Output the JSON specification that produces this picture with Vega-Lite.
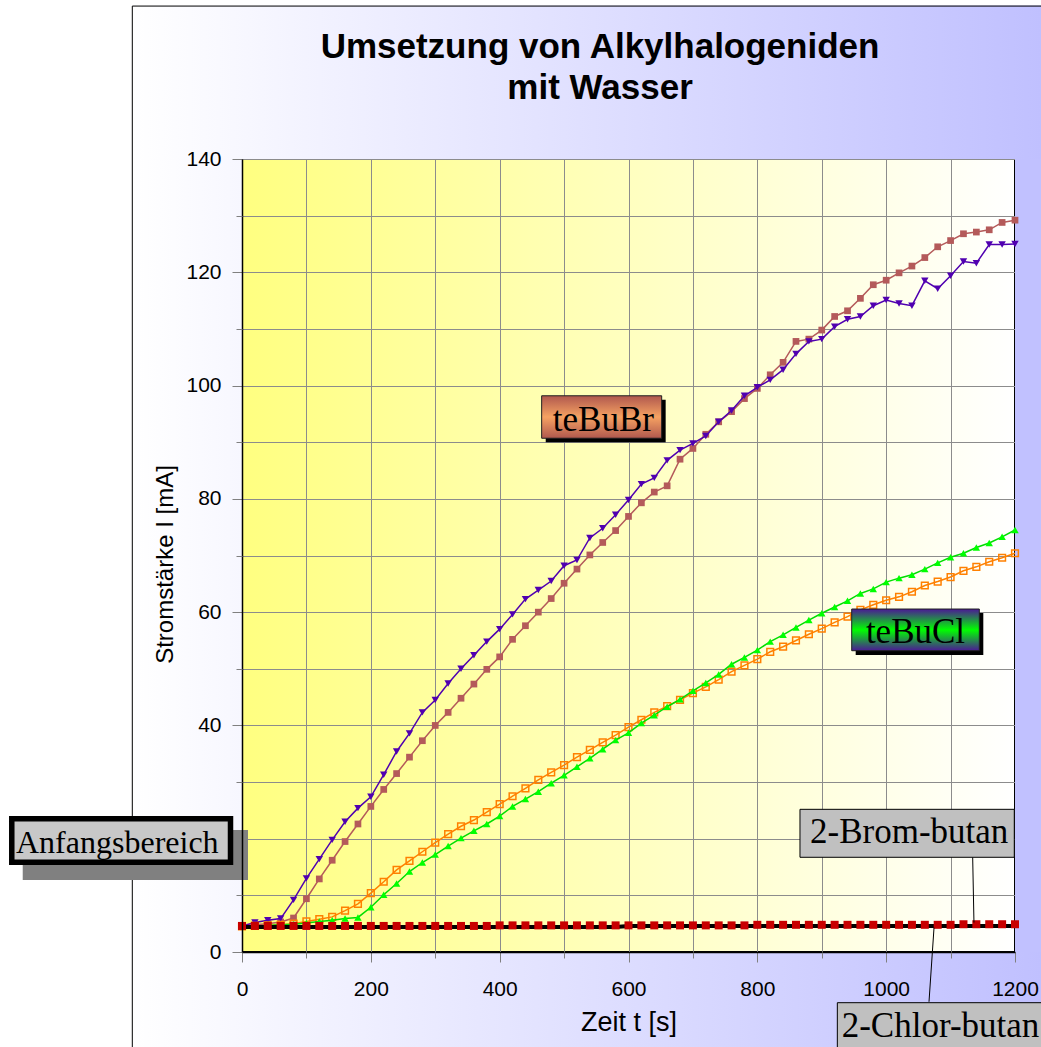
{
"$schema": "https://vega.github.io/schema/vega-lite/v6.json",
"width": 773,
"height": 793,
"autosize": {"type": "none"},
"padding": {"left": 242, "top": 159, "right": 26, "bottom": 95},
"background": "#ffffff",
"view": {"fill": {"gradient": "linear", "x1": 0, "y1": 0, "x2": 1, "y2": 0, "stops": [{"offset": 0, "color": "#ffff80"}, {"offset": 1, "color": "#ffffff"}]}, "stroke": "#000000", "strokeWidth": 2},
"config": {
  "axis": {"labelFont": "Liberation Sans", "labelFontSize": 21, "labelColor": "#000000", "titleFont": "Liberation Sans", "titleFontWeight": "normal", "titleColor": "#000000", "titleFontSize": 24, "tickColor": "#808080", "tickWidth": 1, "domainColor": "#000000", "gridColor": "#8c8c8c", "gridOpacity": 1}
},
"resolve": {"axis": {"x": "independent", "y": "independent"}},
"datasets": {
  "br1": [{"t":0,"I":4.5},{"t":20,"I":4.8},{"t":40,"I":5.0},{"t":60,"I":5.3},{"t":80,"I":6.0},{"t":100,"I":9.4},{"t":120,"I":12.9},{"t":140,"I":16.2},{"t":160,"I":19.5},{"t":180,"I":22.6},{"t":200,"I":25.7},{"t":220,"I":28.7},{"t":240,"I":31.5},{"t":260,"I":34.4},{"t":280,"I":37.3},{"t":300,"I":40.0},{"t":320,"I":42.3},{"t":340,"I":44.8},{"t":360,"I":47.3},{"t":380,"I":49.9},{"t":400,"I":52.1},{"t":420,"I":55.2},{"t":440,"I":57.6},{"t":460,"I":60.0},{"t":480,"I":62.4},{"t":500,"I":65.1},{"t":520,"I":67.6},{"t":540,"I":70.1},{"t":560,"I":72.3},{"t":580,"I":74.4},{"t":600,"I":76.9},{"t":620,"I":79.3},{"t":640,"I":81.2},{"t":660,"I":82.3},{"t":680,"I":87.0},{"t":700,"I":88.9},{"t":720,"I":91.4},{"t":740,"I":93.6},{"t":760,"I":95.4},{"t":780,"I":97.7},{"t":800,"I":99.5},{"t":820,"I":101.9},{"t":840,"I":104.1},{"t":860,"I":107.8},{"t":880,"I":108.2},{"t":900,"I":109.8},{"t":920,"I":112.2},{"t":940,"I":113.2},{"t":960,"I":115.4},{"t":980,"I":117.8},{"t":1000,"I":118.6},{"t":1020,"I":119.9},{"t":1040,"I":121.1},{"t":1060,"I":122.6},{"t":1080,"I":124.5},{"t":1100,"I":125.6},{"t":1120,"I":126.8},{"t":1140,"I":127.1},{"t":1160,"I":127.5},{"t":1180,"I":128.8},{"t":1200,"I":129.2}],
  "br2": [{"t":0,"I":4.6},{"t":20,"I":5.2},{"t":40,"I":5.6},{"t":60,"I":5.9},{"t":80,"I":9.2},{"t":100,"I":13.0},{"t":120,"I":16.4},{"t":140,"I":19.8},{"t":160,"I":23.0},{"t":180,"I":25.4},{"t":200,"I":27.4},{"t":220,"I":31.3},{"t":240,"I":35.4},{"t":260,"I":38.6},{"t":280,"I":42.3},{"t":300,"I":44.5},{"t":320,"I":47.4},{"t":340,"I":50.0},{"t":360,"I":52.4},{"t":380,"I":54.8},{"t":400,"I":57.0},{"t":420,"I":59.6},{"t":440,"I":62.3},{"t":460,"I":63.9},{"t":480,"I":65.5},{"t":500,"I":68.2},{"t":520,"I":69.2},{"t":540,"I":73.1},{"t":560,"I":74.8},{"t":580,"I":77.2},{"t":600,"I":79.8},{"t":620,"I":82.6},{"t":640,"I":83.7},{"t":660,"I":86.8},{"t":680,"I":88.6},{"t":700,"I":89.8},{"t":720,"I":91.1},{"t":740,"I":93.6},{"t":760,"I":95.6},{"t":780,"I":98.2},{"t":800,"I":99.7},{"t":820,"I":101.0},{"t":840,"I":102.8},{"t":860,"I":105.6},{"t":880,"I":107.8},{"t":900,"I":108.2},{"t":920,"I":110.4},{"t":940,"I":111.7},{"t":960,"I":112.2},{"t":980,"I":114.1},{"t":1000,"I":115.1},{"t":1020,"I":114.5},{"t":1040,"I":114.1},{"t":1060,"I":118.5},{"t":1080,"I":117.1},{"t":1100,"I":119.4},{"t":1120,"I":121.9},{"t":1140,"I":121.6},{"t":1160,"I":124.9},{"t":1180,"I":124.9},{"t":1200,"I":125.0}],
  "cl1": [{"t":0,"I":4.5},{"t":20,"I":4.6},{"t":40,"I":4.7},{"t":60,"I":4.8},{"t":80,"I":5.0},{"t":100,"I":5.4},{"t":120,"I":5.8},{"t":140,"I":6.2},{"t":160,"I":7.3},{"t":180,"I":8.5},{"t":200,"I":10.4},{"t":220,"I":12.4},{"t":240,"I":14.5},{"t":260,"I":16.1},{"t":280,"I":17.7},{"t":300,"I":19.3},{"t":320,"I":20.8},{"t":340,"I":22.2},{"t":360,"I":23.3},{"t":380,"I":24.7},{"t":400,"I":26.1},{"t":420,"I":27.5},{"t":440,"I":28.9},{"t":460,"I":30.4},{"t":480,"I":31.7},{"t":500,"I":33.0},{"t":520,"I":34.4},{"t":540,"I":35.7},{"t":560,"I":37.0},{"t":580,"I":38.3},{"t":600,"I":39.7},{"t":620,"I":41.0},{"t":640,"I":42.3},{"t":660,"I":43.4},{"t":680,"I":44.5},{"t":700,"I":45.7},{"t":720,"I":46.8},{"t":740,"I":48.1},{"t":760,"I":49.5},{"t":780,"I":50.6},{"t":800,"I":51.7},{"t":820,"I":53.0},{"t":840,"I":53.9},{"t":860,"I":55.0},{"t":880,"I":56.1},{"t":900,"I":57.1},{"t":920,"I":58.2},{"t":940,"I":59.2},{"t":960,"I":60.4},{"t":980,"I":61.3},{"t":1000,"I":62.1},{"t":1020,"I":62.7},{"t":1040,"I":63.6},{"t":1060,"I":64.7},{"t":1080,"I":65.4},{"t":1100,"I":66.2},{"t":1120,"I":67.3},{"t":1140,"I":68.0},{"t":1160,"I":68.9},{"t":1180,"I":69.6},{"t":1200,"I":70.4}],
  "cl2": [{"t":0,"I":4.5},{"t":20,"I":4.6},{"t":40,"I":4.7},{"t":60,"I":4.8},{"t":80,"I":4.9},{"t":100,"I":5.1},{"t":120,"I":5.4},{"t":140,"I":5.6},{"t":160,"I":5.9},{"t":180,"I":6.1},{"t":200,"I":7.9},{"t":220,"I":10.1},{"t":240,"I":12.1},{"t":260,"I":14.2},{"t":280,"I":15.8},{"t":300,"I":17.2},{"t":320,"I":18.7},{"t":340,"I":20.1},{"t":360,"I":21.4},{"t":380,"I":22.6},{"t":400,"I":24.0},{"t":420,"I":25.7},{"t":440,"I":27.0},{"t":460,"I":28.3},{"t":480,"I":29.8},{"t":500,"I":31.2},{"t":520,"I":32.7},{"t":540,"I":34.2},{"t":560,"I":35.8},{"t":580,"I":37.4},{"t":600,"I":38.7},{"t":620,"I":40.4},{"t":640,"I":41.8},{"t":660,"I":43.3},{"t":680,"I":44.6},{"t":700,"I":46.1},{"t":720,"I":47.5},{"t":740,"I":49.0},{"t":760,"I":50.8},{"t":780,"I":52.0},{"t":800,"I":53.3},{"t":820,"I":54.8},{"t":840,"I":56.0},{"t":860,"I":57.3},{"t":880,"I":58.6},{"t":900,"I":59.8},{"t":920,"I":60.9},{"t":940,"I":62.0},{"t":960,"I":63.3},{"t":980,"I":64.1},{"t":1000,"I":65.3},{"t":1020,"I":66.0},{"t":1040,"I":66.6},{"t":1060,"I":67.6},{"t":1080,"I":68.7},{"t":1100,"I":69.7},{"t":1120,"I":70.4},{"t":1140,"I":71.4},{"t":1160,"I":72.2},{"t":1180,"I":73.3},{"t":1200,"I":74.5}],
  "brom": [{"t":0,"I":4.6},{"t":20,"I":4.6},{"t":40,"I":4.6},{"t":60,"I":4.6},{"t":80,"I":4.6},{"t":100,"I":4.6},{"t":120,"I":4.6},{"t":140,"I":4.6},{"t":160,"I":4.6},{"t":180,"I":4.6},{"t":200,"I":4.6},{"t":220,"I":4.6},{"t":240,"I":4.6},{"t":260,"I":4.6},{"t":280,"I":4.6},{"t":300,"I":4.6},{"t":320,"I":4.6},{"t":340,"I":4.6},{"t":360,"I":4.6},{"t":380,"I":4.6},{"t":400,"I":4.7},{"t":420,"I":4.7},{"t":440,"I":4.7},{"t":460,"I":4.7},{"t":480,"I":4.7},{"t":500,"I":4.7},{"t":520,"I":4.7},{"t":540,"I":4.7},{"t":560,"I":4.7},{"t":580,"I":4.7},{"t":600,"I":4.7},{"t":620,"I":4.7},{"t":640,"I":4.7},{"t":660,"I":4.7},{"t":680,"I":4.7},{"t":700,"I":4.7},{"t":720,"I":4.7},{"t":740,"I":4.7},{"t":760,"I":4.7},{"t":780,"I":4.7},{"t":800,"I":4.8},{"t":820,"I":4.8},{"t":840,"I":4.8},{"t":860,"I":4.8},{"t":880,"I":4.8},{"t":900,"I":4.8},{"t":920,"I":4.8},{"t":940,"I":4.8},{"t":960,"I":4.8},{"t":980,"I":4.8},{"t":1000,"I":4.8},{"t":1020,"I":4.8},{"t":1040,"I":4.8},{"t":1060,"I":4.8},{"t":1080,"I":4.8},{"t":1100,"I":4.8},{"t":1120,"I":4.9},{"t":1140,"I":4.9},{"t":1160,"I":4.9},{"t":1180,"I":4.9},{"t":1200,"I":4.9}],
  "chlor": [{"t":0,"I":4.4},{"t":20,"I":4.4},{"t":40,"I":4.4},{"t":60,"I":4.4},{"t":80,"I":4.4},{"t":100,"I":4.4},{"t":120,"I":4.4},{"t":140,"I":4.4},{"t":160,"I":4.4},{"t":180,"I":4.4},{"t":200,"I":4.4},{"t":220,"I":4.4},{"t":240,"I":4.4},{"t":260,"I":4.4},{"t":280,"I":4.4},{"t":300,"I":4.4},{"t":320,"I":4.4},{"t":340,"I":4.4},{"t":360,"I":4.4},{"t":380,"I":4.4},{"t":400,"I":4.4},{"t":420,"I":4.4},{"t":440,"I":4.4},{"t":460,"I":4.4},{"t":480,"I":4.4},{"t":500,"I":4.4},{"t":520,"I":4.4},{"t":540,"I":4.4},{"t":560,"I":4.4},{"t":580,"I":4.4},{"t":600,"I":4.6},{"t":620,"I":4.6},{"t":640,"I":4.6},{"t":660,"I":4.6},{"t":680,"I":4.6},{"t":700,"I":4.6},{"t":720,"I":4.6},{"t":740,"I":4.6},{"t":760,"I":4.6},{"t":780,"I":4.6},{"t":800,"I":4.6},{"t":820,"I":4.6},{"t":840,"I":4.6},{"t":860,"I":4.6},{"t":880,"I":4.6},{"t":900,"I":4.6},{"t":920,"I":4.6},{"t":940,"I":4.6},{"t":960,"I":4.6},{"t":980,"I":4.6},{"t":1000,"I":4.6},{"t":1020,"I":4.6},{"t":1040,"I":4.6},{"t":1060,"I":4.6},{"t":1080,"I":4.6},{"t":1100,"I":4.6},{"t":1120,"I":4.6},{"t":1140,"I":4.6},{"t":1160,"I":4.6},{"t":1180,"I":4.6},{"t":1200,"I":4.6}]
},
"layer": [
  {"data": {"values": [{}]}, "mark": {"type": "rect", "clip": false, "fill": {"gradient": "linear", "x1": 0, "y1": 0, "x2": 1, "y2": 0, "stops": [{"offset": 0, "color": "#ffffff"}, {"offset": 1, "color": "#c0c0ff"}]}},
   "encoding": {"x": {"datum": -170.3, "type": "quantitative", "scale": {"domain": [0, 1200], "nice": false, "zero": false}, "axis": null}, "x2": {"datum": 1240.4}, "y": {"datum": 140, "type": "quantitative", "scale": {"domain": [0, 140], "nice": false, "zero": false}, "axis": null}, "y2": {"datum": 167.1}}},
  {"data": {"values": [{}]}, "mark": {"type": "rect", "clip": false, "fill": {"gradient": "linear", "x1": 0, "y1": 0, "x2": 1, "y2": 0, "stops": [{"offset": 0, "color": "#ffffff"}, {"offset": 1, "color": "#c0c0ff"}]}},
   "encoding": {"x": {"datum": -170.3, "type": "quantitative", "scale": {"domain": [0, 1200], "nice": false, "zero": false}, "axis": null}, "x2": {"datum": 1240.4}, "y": {"datum": -17.5, "type": "quantitative", "scale": {"domain": [0, 140], "nice": false, "zero": false}, "axis": null}, "y2": {"datum": 0}}},
  {"data": {"values": [{}]}, "mark": {"type": "rect", "clip": false, "fill": {"gradient": "linear", "x1": 0, "y1": 0, "x2": 1, "y2": 0, "stops": [{"offset": 0, "color": "#ffffff"}, {"offset": 1, "color": "#f7f7ff"}]}},
   "encoding": {"x": {"datum": -170.3, "type": "quantitative", "scale": {"domain": [0, 1200], "nice": false, "zero": false}, "axis": null}, "x2": {"datum": 0}, "y": {"datum": 0, "type": "quantitative", "scale": {"domain": [0, 140], "nice": false, "zero": false}, "axis": null}, "y2": {"datum": 140}}},
  {"data": {"values": [{}]}, "mark": {"type": "rect", "clip": false, "fill": "#c1c1ff"},
   "encoding": {"x": {"datum": 1200, "type": "quantitative", "scale": {"domain": [0, 1200], "nice": false, "zero": false}, "axis": null}, "x2": {"datum": 1240.4}, "y": {"datum": 0, "type": "quantitative", "scale": {"domain": [0, 140], "nice": false, "zero": false}, "axis": null}, "y2": {"datum": 140}}},
  {"data": {"values": [{}]}, "mark": {"type": "rect", "clip": false, "filled": false, "color": "#000000", "strokeWidth": 1},
   "encoding": {"x": {"datum": -170.3, "type": "quantitative", "scale": {"domain": [0, 1200], "nice": false, "zero": false}, "axis": null}, "x2": {"datum": 1300}, "y": {"datum": -40, "type": "quantitative", "scale": {"domain": [0, 140], "nice": false, "zero": false}, "axis": null}, "y2": {"datum": 167.0}}},

  {"data": {"name": "br1"}, "mark": {"type": "line", "color": "#b45a5a", "strokeWidth": 1.5},
   "encoding": {"x": {"field": "t", "type": "quantitative", "scale": {"domain": [0, 1200], "nice": false, "zero": false},
      "axis": {"orient": "bottom", "values": [0,100,200,300,400,500,600,700,800,900,1000,1100,1200], "grid": true, "gridWidth": 1, "domain": false, "ticks": false, "labels": false, "title": null, "zindex": 0}},
    "y": {"field": "I", "type": "quantitative", "scale": {"domain": [0, 140], "nice": false, "zero": false},
      "axis": {"orient": "left", "values": [0,10,20,30,40,50,60,70,80,90,100,110,120,130,140], "grid": true, "gridWidth": 1, "domain": false, "ticks": false, "labels": false, "title": null, "zindex": 0}}}},
  {"data": {"name": "br1"}, "mark": {"type": "point", "shape": "square", "filled": true, "color": "#b45a5a", "size": 45, "opacity": 1},
   "encoding": {"x": {"field": "t", "type": "quantitative", "scale": {"domain": [0, 1200], "nice": false, "zero": false}, "axis": null}, "y": {"field": "I", "type": "quantitative", "scale": {"domain": [0, 140], "nice": false, "zero": false}, "axis": null}}},

  {"data": {"name": "br2"}, "mark": {"type": "line", "color": "#5000b0", "strokeWidth": 1.5},
   "encoding": {"x": {"field": "t", "type": "quantitative", "scale": {"domain": [0, 1200], "nice": false, "zero": false},
      "axis": {"orient": "bottom", "values": [0,200,400,600,800,1000,1200], "format": "d", "grid": false, "domain": true, "domainWidth": 1.5, "ticks": true, "tickSize": 10, "labels": true, "labelPadding": 16, "labelOverlap": false, "labelFlush": false, "title": "Zeit t [s]", "titleFontSize": 27, "titleY": 78, "titleBaseline": "alphabetic", "zindex": 1}},
    "y": {"field": "I", "type": "quantitative", "scale": {"domain": [0, 140], "nice": false, "zero": false},
      "axis": {"orient": "left", "values": [0,40,60,80,100,120,140], "format": "d", "grid": false, "domain": true, "domainWidth": 1.5, "ticks": true, "tickSize": 10, "labels": true, "labelPadding": 11, "labelOverlap": false, "labelFlush": false, "title": "Stromstärke I [mA]", "titleX": -77, "titleY": 405, "titleBaseline": "middle", "zindex": 1}}}},
  {"data": {"name": "br2"}, "mark": {"type": "point", "shape": "triangle-down", "filled": true, "color": "#5000b0", "size": 55, "opacity": 1},
   "encoding": {"x": {"field": "t", "type": "quantitative", "scale": {"domain": [0, 1200], "nice": false, "zero": false}, "axis": null}, "y": {"field": "I", "type": "quantitative", "scale": {"domain": [0, 140], "nice": false, "zero": false}, "axis": null}}},

  {"data": {"name": "cl1"}, "mark": {"type": "line", "color": "#ff8000", "strokeWidth": 1.5},
   "encoding": {"x": {"field": "t", "type": "quantitative", "scale": {"domain": [0, 1200], "nice": false, "zero": false},
      "axis": {"orient": "bottom", "values": [100,300,500,700,900,1100], "grid": false, "domain": false, "ticks": true, "tickSize": 6, "labels": false, "title": null, "zindex": 1}},
    "y": {"field": "I", "type": "quantitative", "scale": {"domain": [0, 140], "nice": false, "zero": false},
      "axis": {"orient": "left", "values": [10,30,50,70,90,110,130], "grid": false, "domain": false, "ticks": true, "tickSize": 6, "labels": false, "title": null, "zindex": 1}}}},
  {"data": {"name": "cl1"}, "mark": {"type": "point", "shape": "square", "filled": false, "color": "#ff8000", "strokeWidth": 1.5, "size": 45, "opacity": 1},
   "encoding": {"x": {"field": "t", "type": "quantitative", "scale": {"domain": [0, 1200], "nice": false, "zero": false}, "axis": null}, "y": {"field": "I", "type": "quantitative", "scale": {"domain": [0, 140], "nice": false, "zero": false}, "axis": null}}},

  {"data": {"name": "cl2"}, "mark": {"type": "line", "color": "#00dd00", "strokeWidth": 1.5},
   "encoding": {"x": {"field": "t", "type": "quantitative", "scale": {"domain": [0, 1200], "nice": false, "zero": false}, "axis": null}, "y": {"field": "I", "type": "quantitative", "scale": {"domain": [0, 140], "nice": false, "zero": false}, "axis": null}}},
  {"data": {"name": "cl2"}, "mark": {"type": "point", "shape": "triangle-up", "filled": true, "color": "#00ff00", "size": 55, "opacity": 1},
   "encoding": {"x": {"field": "t", "type": "quantitative", "scale": {"domain": [0, 1200], "nice": false, "zero": false}, "axis": null}, "y": {"field": "I", "type": "quantitative", "scale": {"domain": [0, 140], "nice": false, "zero": false}, "axis": null}}},

  {"data": {"name": "chlor"}, "mark": {"type": "line", "color": "#000000", "strokeWidth": 4},
   "encoding": {"x": {"field": "t", "type": "quantitative", "scale": {"domain": [0, 1200], "nice": false, "zero": false}, "axis": null}, "y": {"field": "I", "type": "quantitative", "scale": {"domain": [0, 140], "nice": false, "zero": false}, "axis": null}}},
  {"data": {"name": "brom"}, "mark": {"type": "point", "shape": "square", "filled": true, "color": "#c80000", "size": 64, "opacity": 1},
   "encoding": {"x": {"field": "t", "type": "quantitative", "scale": {"domain": [0, 1200], "nice": false, "zero": false}, "axis": null}, "y": {"field": "I", "type": "quantitative", "scale": {"domain": [0, 140], "nice": false, "zero": false}, "axis": null}}},

  {"data": {"values": [{}]}, "mark": {"type": "rect", "clip": false, "fill": "#808080"},
   "encoding": {"x": {"datum": -340.4, "type": "quantitative", "scale": {"domain": [0, 1200], "nice": false, "zero": false}, "axis": null}, "x2": {"datum": 9.3}, "y": {"datum": 12.71, "type": "quantitative", "scale": {"domain": [0, 140], "nice": false, "zero": false}, "axis": null}, "y2": {"datum": 21.54}}},
  {"data": {"values": [{}]}, "mark": {"type": "rect", "clip": false, "fill": "#c8c8c8", "stroke": "#000000", "strokeWidth": 5.5},
   "encoding": {"x": {"datum": -357.4, "type": "quantitative", "scale": {"domain": [0, 1200], "nice": false, "zero": false}, "axis": null}, "x2": {"datum": -17.85}, "y": {"datum": 15.85, "type": "quantitative", "scale": {"domain": [0, 140], "nice": false, "zero": false}, "axis": null}, "y2": {"datum": 23.52}}},
  {"data": {"values": [{"label": "Anfangsbereich"}]}, "mark": {"type": "text", "font": "Liberation Serif", "fontSize": 32, "align": "center", "baseline": "alphabetic", "color": "#000000"},
   "encoding": {"text": {"field": "label"}, "x": {"datum": -193.6, "type": "quantitative", "scale": {"domain": [0, 1200], "nice": false, "zero": false}, "axis": null}, "y": {"datum": 17.48, "type": "quantitative", "scale": {"domain": [0, 140], "nice": false, "zero": false}, "axis": null}}},

  {"data": {"values": [{}]}, "mark": {"type": "rect", "clip": false, "fill": "#000000"},
   "encoding": {"x": {"datum": 471.5, "type": "quantitative", "scale": {"domain": [0, 1200], "nice": false, "zero": false}, "axis": null}, "x2": {"datum": 657.7}, "y": {"datum": 90.0, "type": "quantitative", "scale": {"domain": [0, 140], "nice": false, "zero": false}, "axis": null}, "y2": {"datum": 97.5}}},
  {"data": {"values": [{}]}, "mark": {"type": "rect", "clip": false, "stroke": "#202020", "strokeWidth": 1, "fill": {"gradient": "linear", "x1": 0, "y1": 0, "x2": 0, "y2": 1, "stops": [{"offset": 0, "color": "#b0584e"}, {"offset": 0.5, "color": "#f6a262"}, {"offset": 1, "color": "#b0584e"}]}},
   "encoding": {"x": {"datum": 465.2, "type": "quantitative", "scale": {"domain": [0, 1200], "nice": false, "zero": false}, "axis": null}, "x2": {"datum": 651.5}, "y": {"datum": 90.7, "type": "quantitative", "scale": {"domain": [0, 140], "nice": false, "zero": false}, "axis": null}, "y2": {"datum": 98.2}}},
  {"data": {"values": [{"label": "teBuBr"}]}, "mark": {"type": "text", "font": "Liberation Serif", "fontSize": 35, "align": "center", "baseline": "alphabetic", "color": "#000000"},
   "encoding": {"text": {"field": "label"}, "x": {"datum": 561, "type": "quantitative", "scale": {"domain": [0, 1200], "nice": false, "zero": false}, "axis": null}, "y": {"datum": 92.0, "type": "quantitative", "scale": {"domain": [0, 140], "nice": false, "zero": false}, "axis": null}}},

  {"data": {"values": [{}]}, "mark": {"type": "rect", "clip": false, "fill": "#000000"},
   "encoding": {"x": {"datum": 952.7, "type": "quantitative", "scale": {"domain": [0, 1200], "nice": false, "zero": false}, "axis": null}, "x2": {"datum": 1150.8}, "y": {"datum": 52.44, "type": "quantitative", "scale": {"domain": [0, 140], "nice": false, "zero": false}, "axis": null}, "y2": {"datum": 59.85}}},
  {"data": {"values": [{}]}, "mark": {"type": "rect", "clip": false, "stroke": "#202020", "strokeWidth": 1, "fill": {"gradient": "linear", "x1": 0, "y1": 0, "x2": 0, "y2": 1, "stops": [{"offset": 0, "color": "#4b1896"}, {"offset": 0.5, "color": "#00ff00"}, {"offset": 1, "color": "#4b1896"}]}},
   "encoding": {"x": {"datum": 946.5, "type": "quantitative", "scale": {"domain": [0, 1200], "nice": false, "zero": false}, "axis": null}, "x2": {"datum": 1144.6}, "y": {"datum": 53.19, "type": "quantitative", "scale": {"domain": [0, 140], "nice": false, "zero": false}, "axis": null}, "y2": {"datum": 60.55}}},
  {"data": {"values": [{"label": "teBuCl"}]}, "mark": {"type": "text", "font": "Liberation Serif", "fontSize": 35, "align": "center", "baseline": "alphabetic", "color": "#000000"},
   "encoding": {"text": {"field": "label"}, "x": {"datum": 1045.5, "type": "quantitative", "scale": {"domain": [0, 1200], "nice": false, "zero": false}, "axis": null}, "y": {"datum": 54.6, "type": "quantitative", "scale": {"domain": [0, 140], "nice": false, "zero": false}, "axis": null}}},

  {"data": {"values": [{}]}, "mark": {"type": "rule", "clip": false, "color": "#000000", "strokeWidth": 1},
   "encoding": {"x": {"datum": 1134.3, "type": "quantitative", "scale": {"domain": [0, 1200], "nice": false, "zero": false}, "axis": null}, "x2": {"datum": 1136.3}, "y": {"datum": 16.72, "type": "quantitative", "scale": {"domain": [0, 140], "nice": false, "zero": false}, "axis": null}, "y2": {"datum": 5.2}}},
  {"data": {"values": [{}]}, "mark": {"type": "rect", "clip": false, "fill": "#c0c0c0", "stroke": "#000000", "strokeWidth": 1},
   "encoding": {"x": {"datum": 866.2, "type": "quantitative", "scale": {"domain": [0, 1200], "nice": false, "zero": false}, "axis": null}, "x2": {"datum": 1198.9}, "y": {"datum": 16.72, "type": "quantitative", "scale": {"domain": [0, 140], "nice": false, "zero": false}, "axis": null}, "y2": {"datum": 25.19}}},
  {"data": {"values": [{"label": "2-Brom-butan"}]}, "mark": {"type": "text", "font": "Liberation Serif", "fontSize": 35, "align": "center", "baseline": "alphabetic", "color": "#000000"},
   "encoding": {"text": {"field": "label"}, "x": {"datum": 1035.7, "type": "quantitative", "scale": {"domain": [0, 1200], "nice": false, "zero": false}, "axis": null}, "y": {"datum": 19.19, "type": "quantitative", "scale": {"domain": [0, 140], "nice": false, "zero": false}, "axis": null}}},

  {"data": {"values": [{}]}, "mark": {"type": "rule", "clip": false, "color": "#000000", "strokeWidth": 1},
   "encoding": {"x": {"datum": 1066.5, "type": "quantitative", "scale": {"domain": [0, 1200], "nice": false, "zero": false}, "axis": null}, "x2": {"datum": 1074.3}, "y": {"datum": -8.79, "type": "quantitative", "scale": {"domain": [0, 140], "nice": false, "zero": false}, "axis": null}, "y2": {"datum": 4.3}}},
  {"data": {"values": [{}]}, "mark": {"type": "rect", "clip": false, "fill": "#c0c0c0", "stroke": "#000000", "strokeWidth": 1},
   "encoding": {"x": {"datum": 924.2, "type": "quantitative", "scale": {"domain": [0, 1200], "nice": false, "zero": false}, "axis": null}, "x2": {"datum": 1300}, "y": {"datum": -40, "type": "quantitative", "scale": {"domain": [0, 140], "nice": false, "zero": false}, "axis": null}, "y2": {"datum": -8.95}}},
  {"data": {"values": [{"label": "2-Chlor-butan"}]}, "mark": {"type": "text", "font": "Liberation Serif", "fontSize": 35, "align": "left", "baseline": "alphabetic", "color": "#000000"},
   "encoding": {"text": {"field": "label"}, "x": {"datum": 931.0, "type": "quantitative", "scale": {"domain": [0, 1200], "nice": false, "zero": false}, "axis": null}, "y": {"datum": -14.95, "type": "quantitative", "scale": {"domain": [0, 140], "nice": false, "zero": false}, "axis": null}}},

  {"data": {"values": [{"titel": "Umsetzung von Alkylhalogeniden", "zeile": 1}]}, "mark": {"type": "text", "text": ["Umsetzung von Alkylhalogeniden", "mit Wasser"], "font": "Liberation Sans", "fontSize": 35, "fontWeight": "bold", "align": "center", "baseline": "alphabetic", "lineHeight": 41, "color": "#000000"},
   "encoding": {"x": {"datum": 555.8, "type": "quantitative", "scale": {"domain": [0, 1200], "nice": false, "zero": false}, "axis": null}, "y": {"datum": 157.83, "type": "quantitative", "scale": {"domain": [0, 140], "nice": false, "zero": false}, "axis": null}}}
]
}
